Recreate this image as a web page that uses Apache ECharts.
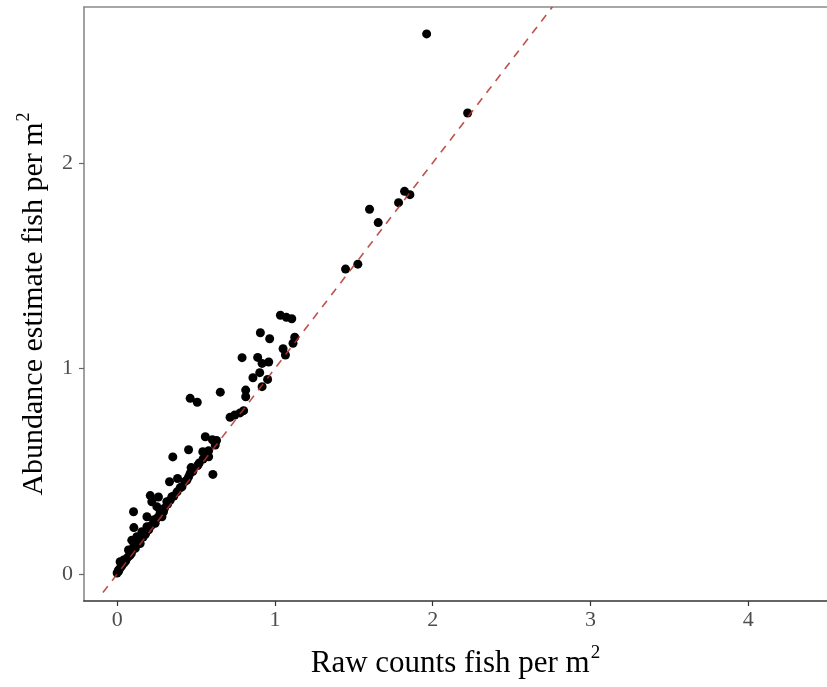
<!DOCTYPE html>
<html>
<head>
<meta charset="utf-8">
<script src="https://cdn.jsdelivr.net/npm/echarts@6/dist/echarts.min.js"></script>
<style>html,body{margin:0;padding:0;background:#fff;}#c{width:827px;height:687px;}</style>
</head>
<body>
<div id="c"></div>
<script>
// Raw counts (fish per m^2)
var rawCounts = [
  1.962, 2.222, 1.448, 1.526, 1.600, 1.655, 1.784, 1.822, 1.856,
  1.035, 1.073, 1.107, 0.908, 0.967, 1.126, 1.115, 1.052, 1.067, 0.891, 0.919, 0.961, 0.904, 0.861, 0.954, 0.919,
  0.792, 0.654, 0.815, 0.815, 0.463, 0.508, 0.716, 0.746, 0.779, 0.802,
  0.559, 0.604, 0.622, 0.453, 0.353, 0.543, 0.580, 0.607, 0.469, 0.511,
  0.332, 0.383, 0.411, 0.442, 0.210, 0.262, 0.104, 0.106, 0.189, 0.231, 0.294, 0.337,
  0.093, 0.146, 0.019, 0.220, 0.252, 0.273, 0.315, 0.347, 0.463, 0.146, 0.072, 0.104,
  0.040, 0.008, 0.189, 0.241, 0.284, 0.125, 0.157, 0.453,
  0.000, 0.010, 0.020, 0.030, 0.045, 0.055, 0.065, 0.080, 0.090, 0.115, 0.135, 0.165,
  0.180, 0.200, 0.215, 0.250, 0.270, 0.300, 0.320, 0.360, 0.380, 0.400, 0.430, 0.480,
  0.520, 0.545, 0.580, 0.630
];
// Abundance estimates (fish per m^2)
var abundance = [
  2.628, 2.243, 1.484, 1.508, 1.775, 1.710, 1.807, 1.862, 1.846,
  1.259, 1.249, 1.242, 1.174, 1.145, 1.152, 1.123, 1.096, 1.066, 1.054, 1.025, 1.032, 0.980, 0.955, 0.947, 0.912,
  1.053, 0.885, 0.895, 0.863, 0.855, 0.836, 0.763, 0.774, 0.784, 0.795,
  0.668, 0.653, 0.628, 0.605, 0.570, 0.595, 0.571, 0.485, 0.518, 0.528,
  0.449, 0.465, 0.425, 0.457, 0.382, 0.375, 0.303, 0.226, 0.279, 0.263, 0.303, 0.360,
  0.165, 0.182, 0.060, 0.352, 0.328, 0.311, 0.352, 0.376, 0.490, 0.149, 0.117, 0.133,
  0.068, 0.019, 0.230, 0.247, 0.279, 0.182, 0.206, 0.473,
  0.005, 0.015, 0.030, 0.040, 0.055, 0.065, 0.080, 0.090, 0.100, 0.125, 0.150, 0.180,
  0.195, 0.215, 0.235, 0.270, 0.290, 0.320, 0.340, 0.380, 0.400, 0.420, 0.450, 0.500,
  0.540, 0.560, 0.600, 0.650
];
// 1:1 reference line endpoints
var refLineX = [-0.09, 2.759];
var refLineY = [-0.09, 2.759];
// Tick labels
var xTicks = [0, 1, 2, 3, 4];
var yTicks = [0, 1, 2];

var points = rawCounts.map(function (x, i) { return [x, abundance[i]]; });
var refLine = refLineX.map(function (x, i) { return [x, refLineY[i]]; });

var serif = '"Liberation Serif", "DejaVu Serif", serif';
function titleRich(fs, sfs) {
  return {
    a: { fontFamily: serif, fontSize: fs, color: '#000', lineHeight: fs + 4, verticalAlign: 'bottom' },
    s: { fontFamily: serif, fontSize: sfs, color: '#000', lineHeight: fs + 4, verticalAlign: 'top', padding: [0, 0, 0, 1] }
  };
}

var chart = echarts.init(document.getElementById('c'), null, { renderer: 'canvas' });
chart.setOption({
  animation: false,
  backgroundColor: '#fff',
  grid: { left: 84, top: 7, right: 0, bottom: 86, containLabel: false },
  xAxis: [{
    type: 'value', min: -0.21, max: 4.5, position: 'bottom',
    splitLine: { show: false },
    axisLine: { show: true, onZero: false, lineStyle: { color: '#333', width: 1.6 } },
    axisTick: { show: true, customValues: xTicks, length: 5, lineStyle: { color: '#333', width: 1.2 } },
    axisLabel: { customValues: xTicks, fontFamily: serif, fontSize: 22, color: '#4d4d4d', margin: 8 },
    name: '{a|Raw counts fish per m}{s|2}', nameLocation: 'middle', nameGap: 43,
    nameTextStyle: { rich: titleRich(31, 19) }
  }, {
    type: 'value', min: -0.21, max: 4.5, position: 'top',
    splitLine: { show: false },
    axisLine: { show: true, onZero: false, lineStyle: { color: '#8a8a8a', width: 1.6 } },
    axisTick: { show: false }, axisLabel: { show: false }
  }],
  yAxis: {
    type: 'value', min: -0.131, max: 2.759,
    splitLine: { show: false },
    axisLine: { show: true, onZero: false, lineStyle: { color: '#8a8a8a', width: 1.6 } },
    axisTick: { show: true, customValues: yTicks, length: 5, lineStyle: { color: '#666', width: 1.2 } },
    axisLabel: { customValues: yTicks, fontFamily: serif, fontSize: 22, color: '#4d4d4d', margin: 11 },
    name: '{a|Abundance estimate fish per m}{s|2}', nameLocation: 'middle', nameGap: 35, nameRotate: 90,
    nameTextStyle: { rich: titleRich(30, 18) }
  },
  series: [{
    type: 'scatter', data: points, symbol: 'circle', symbolSize: 9,
    itemStyle: { color: '#000', opacity: 1 }, z: 2
  }, {
    type: 'line', data: refLine, symbol: 'none', z: 3,
    lineStyle: { color: '#b5342b', width: 1.6, type: [8, 7], opacity: 0.85 }
  }]
});
</script>
</body>
</html>
